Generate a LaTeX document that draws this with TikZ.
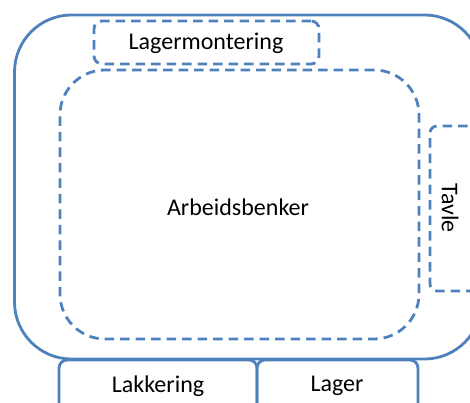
\documentclass[tikz,border=0pt]{standalone}
\usepackage{fontspec}
\setmainfont{Carlito}
\definecolor{officeblue}{HTML}{4F81BD}
\begin{document}
\begin{tikzpicture}[x=1pt,y=-1pt,
  zone/.style={draw=officeblue, line width=2.8pt, rectangle, inner sep=0pt, outer sep=0pt},
  dashzone/.style={zone, dash pattern=on 9.5pt off 6pt},
  lbl/.style={font=\fontsize{24}{29}\selectfont, inner sep=0pt, text=black},
]
\useasboundingbox (0,0) rectangle (470,403);
\clip (0,0) rectangle (470,403);
% outer hall
\node[zone, rounded corners=57pt, minimum width=467pt, minimum height=344pt] (hall) at (248,187) {};
% Lagermontering
\node[dashzone, rounded corners=8pt, minimum width=225pt, minimum height=43pt] (lagermont) at (206.5,42.5) {};
\node[lbl] (lagermonttext) at (206,43) {Lagermontering};
% Arbeidsbenker
\node[dashzone, rounded corners=45pt, minimum width=359pt, minimum height=269pt] (arbeid) at (239.5,204.5) {};
\node[lbl] (arbeidtext) at (238,207) {Arbeidsbenker};
% Tavle
\node[dashzone, rounded corners=7pt, minimum width=60pt, minimum height=165pt] (tavle) at (460,208.5) {};
\node[lbl, rotate=-90] (tavletext) at (450,208) {Tavle};
% Lakkering and Lager
\node[zone, rounded corners=8pt, minimum width=198pt, minimum height=56pt] (lakk) at (158,388) {};
\node[lbl] (lakktext) at (158,386) {Lakkering};
\node[zone, rounded corners=8pt, minimum width=161pt, minimum height=56pt] (lager) at (337.5,388) {};
\node[lbl] (lagertext) at (337,386) {Lager};
\end{tikzpicture}
\end{document}
